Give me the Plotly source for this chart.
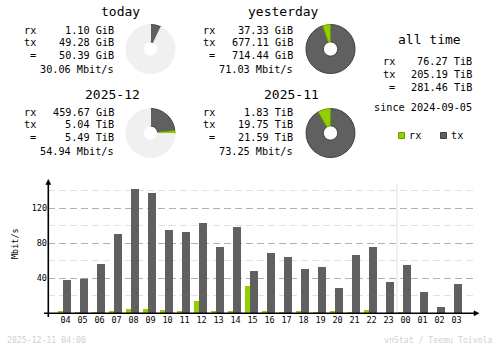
import plotly.graph_objects as go

W, H = 500, 348

# ---------------- data ----------------
hours = ["04", "05", "06", "07", "08", "09", "10", "11", "12", "13", "14", "15",
         "16", "17", "18", "19", "20", "21", "22", "23", "00", "01", "02", "03"]
rx_mbit = [2.7, 1.5, 1.5, 2.7, 5.0, 5.0, 3.8, 2.7, 14.1, 2.7, 2.7, 31.2,
           2.7, 1.5, 2.7, 1.5, 2.7, 1.5, 3.8, 0.0, 1.5, 0.0, 0.0, 0.0]
tx_mbit = [38.1, 39.6, 56.4, 90.7, 142.1, 137.5, 95.2, 93.0, 103.2, 75.8, 98.7, 48.4,
           69.0, 64.4, 50.7, 53.0, 29.0, 66.7, 75.8, 35.8, 55.2, 24.4, 7.2, 33.5]
y_ticks = [40, 80, 120]
y_minor = [20, 60, 100, 140]

# summary values (GiB)
today_rx, today_tx = 1.10, 49.28
yest_rx, yest_tx = 37.33, 677.11
month_rx, month_tx = 459.67, 5.04 * 1024
prev_month_rx, prev_month_tx = 1.83 * 1024, 19.75 * 1024
prev_month_total = 21.59 * 1024
yest_total = 714.44

summary_blocks = [
    ("today", ["1.10 GiB", "49.28 GiB", "50.39 GiB"], "30.06 Mbit/s"),
    ("yesterday", ["37.33 GiB", "677.11 GiB", "714.44 GiB"], "71.03 Mbit/s"),
    ("2025-12", ["459.67 GiB", "5.04 TiB", "5.49 TiB"], "54.94 Mbit/s"),
    ("2025-11", ["1.83 TiB", "19.75 TiB", "21.59 TiB"], "73.25 Mbit/s"),
]
alltime_vals = ["76.27 TiB", "205.19 TiB", "281.46 TiB"]
since_text = "since 2024-09-05"
stamp_text = "2025-12-11 04:00"
credit_text = "vnStat / Teemu Toivola"

# ---------------- style ----------------
RX = "#92CF00"
TX = "#606060"
RXD = "#6E9C00"
TXD = "#404040"
LIGHT = "#F0F0F0"
FONT = "DejaVu Sans Mono"
BODY = 10.2


def px(x):
    return x / W


def py(y):
    return 1 - y / H


fig = go.Figure()

# ---------------- bar chart ----------------
x0_pix, unit = 65.5, 17.0
dom_l, dom_r = 48.0, 473.0
base_y, top_y = 313.3, 180.0
yscale = 0.875  # px per Mbit/s

xs = list(range(len(hours)))
fig.add_trace(go.Bar(x=xs, y=rx_mbit, marker=dict(color=RX, line=dict(width=0)),
                     width=5 / unit, offset=-7.5 / unit, xaxis="x", yaxis="y",
                     hoverinfo="skip"))
fig.add_trace(go.Bar(x=xs, y=tx_mbit, marker=dict(color=TX, line=dict(width=0)),
                     width=8 / unit, offset=-2.5 / unit, xaxis="x", yaxis="y",
                     hoverinfo="skip"))

# ---------------- pies ----------------
def pie(values, colors, lines, cx, cy, r=24.5):
    fig.add_trace(go.Pie(
        values=values, sort=False, direction="clockwise", rotation=0,
        hole=0.29, textinfo="none", hoverinfo="skip",
        marker=dict(colors=colors, line=dict(color=lines, width=1)),
        domain=dict(x=[px(cx - r), px(cx + r)], y=[py(cy + r), py(cy - r)]),
        showlegend=False))


pie([today_tx, today_rx, yest_total - (today_tx + today_rx)],
    [TX, RX, LIGHT], [TXD, RXD, LIGHT], 150.5, 49)
pie([yest_tx, yest_rx], [TX, RX], [TXD, RXD], 330.5, 49)
pie([month_tx, month_rx, prev_month_total - (month_tx + month_rx)],
    [TX, RX, LIGHT], [TXD, RXD, LIGHT], 150.5, 133)
pie([prev_month_tx, prev_month_rx], [TX, RX], [TXD, RXD], 330.5, 133)

# ---------------- text ----------------
ann = []


def text(t, x, y, size=BODY, xanchor="left", color="black", angle=0):
    ann.append(dict(text=t, x=px(x), y=py(y), xref="paper", yref="paper",
                    xanchor=xanchor, yanchor="middle", showarrow=False,
                    textangle=angle,
                    font=dict(family=FONT, size=size, color=color)))


layouts = [
    (38, 116, 142, 12, [30, 42, 55, 69]),
    (217, 295, 321, 12, [30, 42, 55, 69]),
    (38, 116, 142, 94, [112, 124, 137.5, 151.5]),
    (217, 295, 321, 94, [112, 124, 137.5, 151.5]),
]
for (title, vals, rate), (lx, vx, tx_, ty, rows) in zip(summary_blocks, layouts):
    text(title, tx_, ty, size=13, xanchor="right")
    for lab, v, yy in zip(["rx", "tx", "="], vals, rows[:3]):
        text(lab, lx, yy, xanchor="right")
        text(v, vx, yy, xanchor="right")
    text(rate, vx, rows[3], xanchor="right")

text("all time", 429, 40, size=13, xanchor="center")
for lab, v, yy in zip(["rx", "tx", "="], alltime_vals, [62, 74.5, 87]):
    text(lab, 397, yy, xanchor="right")
    text(v, 474, yy, xanchor="right")
text(since_text, 474, 108, xanchor="right")

# legend
shapes = []
for col, dcol, sx, lab in [(RX, RXD, 398.5, "rx"), (TX, TXD, 440.5, "tx")]:
    shapes.append(dict(type="rect", xref="paper", yref="paper",
                       x0=px(sx), x1=px(sx + 6), y0=py(138.5), y1=py(132.5),
                       fillcolor=col, line=dict(color=dcol, width=1)))
    text(lab, sx + 8, 135.5)

text("Mbit/s", 14.5, 243.5, size=8.5, xanchor="center", angle=-90)
text(stamp_text, 5, 340, size=8.2, color="#D0D0D0")
text(credit_text, 495, 340, size=8.2, xanchor="right", color="#D0D0D0")

# axes lines and arrows
shapes.append(dict(type="line", xref="paper", yref="paper",
                   x0=px(48.3), x1=px(48.3), y0=py(317), y1=py(182),
                   line=dict(color="black", width=1.6)))
shapes.append(dict(type="line", xref="paper", yref="paper",
                   x0=px(44), x1=px(476), y0=py(313.3), y1=py(313.3),
                   line=dict(color="black", width=1.6)))
shapes.append(dict(type="path", xref="paper", yref="paper",
                   path=f"M {px(45.8)} {py(184.5)} L {px(50.8)} {py(184.5)} L {px(48.3)} {py(179.5)} Z",
                   fillcolor="black", line=dict(color="black", width=0.5)))
shapes.append(dict(type="path", xref="paper", yref="paper",
                   path=f"M {px(474)} {py(310.8)} L {px(474)} {py(315.8)} L {px(479)} {py(313.3)} Z",
                   fillcolor="black", line=dict(color="black", width=0.5)))
# separator between days (between "23" and "00")
sep = hours.index("00") - 0.5
shapes.append(dict(type="line", xref="x", yref="y", x0=sep, x1=sep,
                   y0=0, y1=148, line=dict(color="#E0E0E0", width=1), layer="below"))

fig.update_layout(
    width=W, height=H, autosize=False,
    margin=dict(l=0, r=0, t=0, b=0),
    paper_bgcolor="white", plot_bgcolor="white",
    showlegend=False, barmode="overlay",
    annotations=ann, shapes=shapes,
    xaxis=dict(domain=[px(dom_l), px(dom_r)],
               range=[(dom_l - x0_pix) / unit, (dom_r - x0_pix) / unit],
               tickmode="array", tickvals=xs, ticktext=hours,
               showgrid=False, zeroline=False, showline=False, ticks="",
               tickfont=dict(family=FONT, size=8.5, color="black"),
               fixedrange=True),
    yaxis=dict(domain=[py(base_y), py(top_y)],
               range=[0, (base_y - top_y) / yscale],
               tickmode="array", tickvals=y_ticks,
               showgrid=True, gridcolor="#B0B0B0", griddash="7px,4px", gridwidth=1,
               minor=dict(tickmode="array", tickvals=y_minor, showgrid=True,
                          gridcolor="#E0E0E0", griddash="7px,4px", gridwidth=1),
               zeroline=False, showline=False, ticks="",
               tickfont=dict(family=FONT, size=8.5, color="black"),
               fixedrange=True),
)

fig.write_html("out.html")
